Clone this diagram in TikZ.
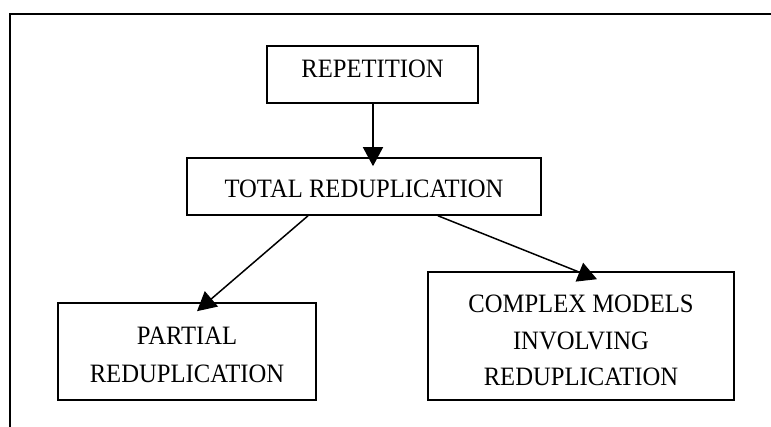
\documentclass[tikz,border=0pt]{standalone}
\usepackage{fontspec}
\setmainfont{Liberation Serif}[FakeStretch=0.93]
\usetikzlibrary{arrows.meta}
\begin{document}
\begin{tikzpicture}[x=1pt,y=-1pt,
  box/.style={draw=black, line width=1.6pt, inner sep=0pt, align=center,
    font=\fontsize{26.5}{37.5}\selectfont},
  arr/.style={line width=1.5pt, -{Triangle[length=19pt,width=20pt]}}]
\useasboundingbox (0,0) rectangle (771,427);
% outer frame (left and top edges only)
\draw[line width=2pt] (10,427) -- (10,14) -- (771,14);
% boxes
\node[box, minimum width=211pt, minimum height=57pt, text height=17.5pt, text depth=11.9pt] (rep) at (372.5,74.5) {REPETITION};
\node[box, minimum width=354pt, minimum height=57pt, text height=23pt, text depth=0pt] (total) at (364,186.5) {TOTAL REDUPLICATION};
\node[box, minimum width=258pt, minimum height=97pt, text height=63pt, text depth=0pt,
  font=\fontsize{26.5}{38.5}\selectfont] (partial) at (187,351.5) {PARTIAL\\REDUPLICATION};
\node[box, minimum width=306pt, minimum height=128pt, text height=100pt, text depth=0pt,
  font=\fontsize{26.5}{36.7}\selectfont] (complex) at (581,336) {COMPLEX MODELS\\INVOLVING\\REDUPLICATION};
% connectors
\draw[arr] ([xshift=0.5pt]rep.south) -- ([xshift=9pt,yshift=-9pt]total.north);
\draw[arr] ([xshift=-56pt]total.south) -- ([xshift=10pt,yshift=-9pt]partial.north);
\draw[arr] ([xshift=74pt]total.south) -- ([xshift=16pt,yshift=-8pt]complex.north);
\end{tikzpicture}
\end{document}
